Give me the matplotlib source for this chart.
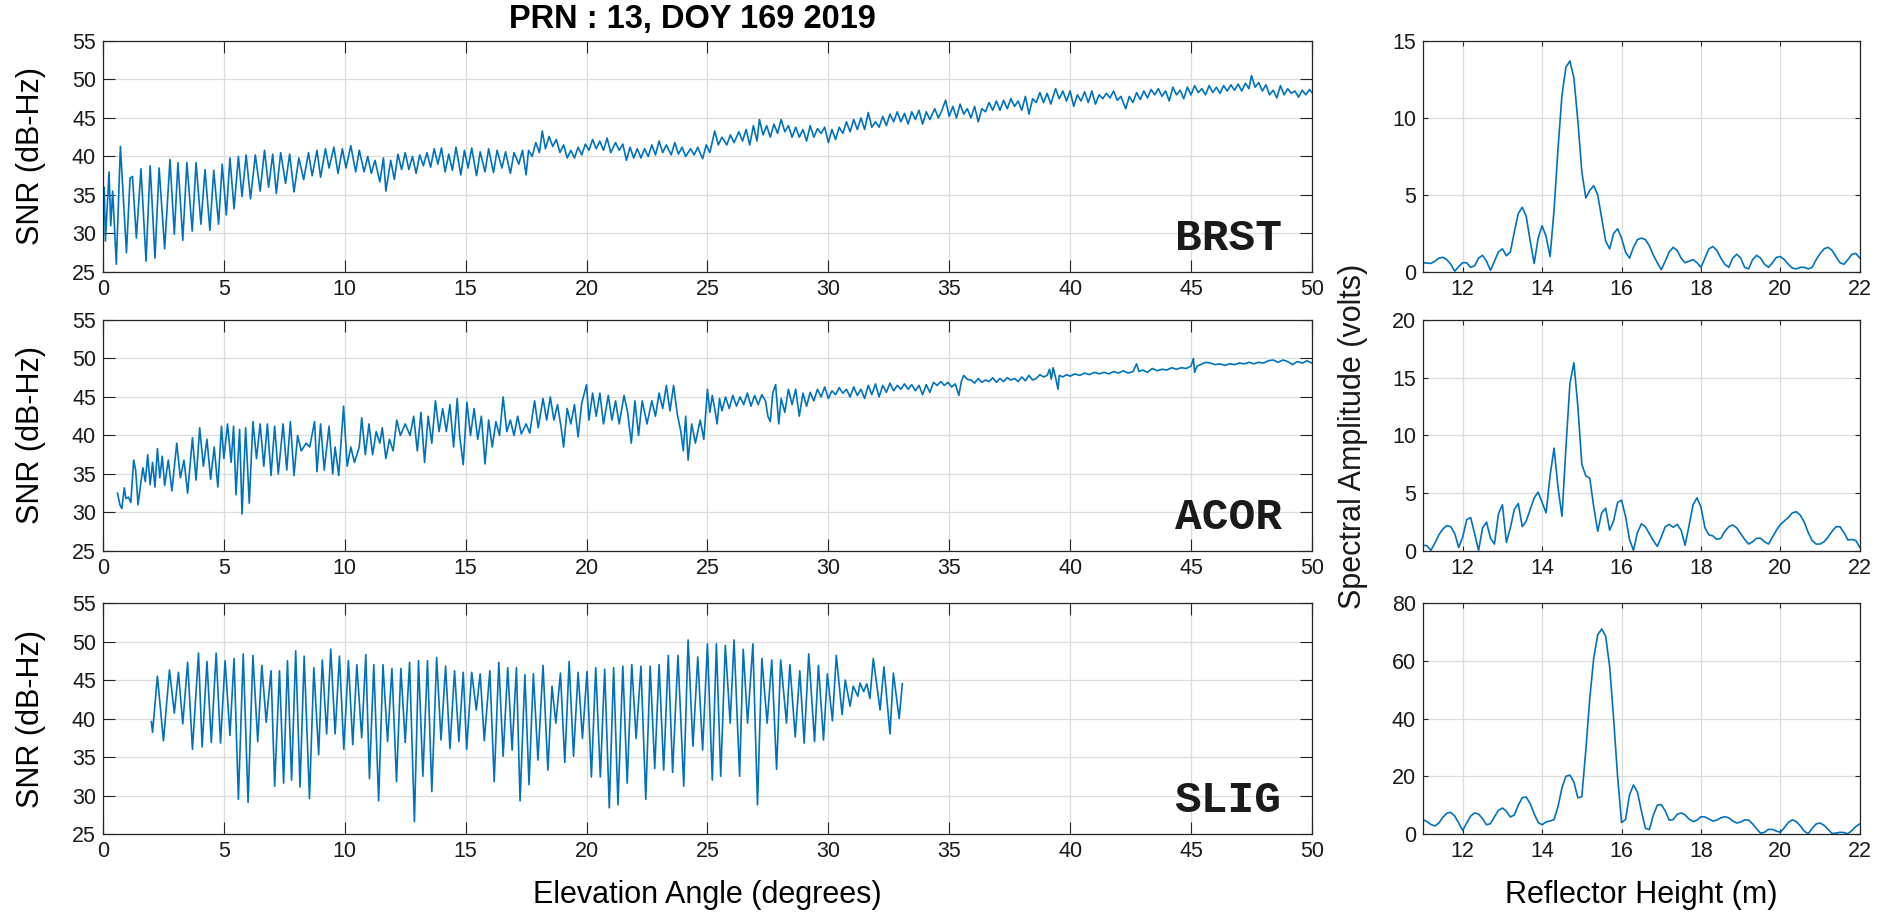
import numpy as np
import matplotlib.pyplot as plt

plt.rcParams['font.family'] = ['Liberation Sans', 'DejaVu Sans']

# SNR traces, PRN 13, DOY 169 2019 (vertices)
brst_elev = [
    0.0, 0.05, 0.1, 0.25, 0.32, 0.4, 0.55, 0.72, 0.97, 1.12,
    1.22, 1.38, 1.57, 1.78, 1.95, 2.15, 2.32, 2.55, 2.77, 2.95,
    3.1, 3.3, 3.47, 3.69, 3.85, 4.05, 4.22, 4.42, 4.58, 4.78,
    4.93, 5.1, 5.25, 5.42, 5.6, 5.75, 5.92, 6.1, 6.3, 6.5,
    6.68, 6.85, 7.02, 7.17, 7.35, 7.55, 7.72, 7.9, 8.1, 8.3,
    8.5, 8.65, 8.85, 9.0, 9.2, 9.35, 9.55, 9.72, 9.9, 10.05,
    10.25, 10.45, 10.6, 10.8, 10.95, 11.1, 11.25, 11.45, 11.6, 11.7,
    11.9, 12.05, 12.2, 12.35, 12.5, 12.65, 12.8, 12.95, 13.1, 13.25,
    13.4, 13.55, 13.7, 13.85, 14.0, 14.15, 14.3, 14.45, 14.6, 14.8,
    14.95, 15.1, 15.25, 15.45, 15.6, 15.8, 15.95, 16.15, 16.3, 16.5,
    16.65, 16.85, 17.0, 17.2, 17.35, 17.5, 17.6, 17.75, 17.9, 18.05,
    18.17, 18.3, 18.45, 18.6, 18.75, 18.9, 19.05, 19.2, 19.35, 19.5,
    19.65, 19.8, 19.95, 20.1, 20.25, 20.4, 20.55, 20.7, 20.85, 21.0,
    21.2, 21.35, 21.5, 21.65, 21.8, 21.95, 22.1, 22.25, 22.4, 22.55,
    22.7, 22.85, 23.0, 23.15, 23.3, 23.5, 23.65, 23.8, 23.95, 24.1,
    24.3, 24.45, 24.6, 24.8, 24.95, 25.1, 25.3, 25.45, 25.6, 25.8,
    25.95, 26.1, 26.3, 26.45, 26.6, 26.75, 26.9, 27.05, 27.15, 27.3,
    27.45, 27.6, 27.75, 27.9, 28.05, 28.2, 28.35, 28.5, 28.65, 28.8,
    28.95, 29.1, 29.25, 29.4, 29.55, 29.7, 29.85, 30.0, 30.15, 30.3,
    30.45, 30.6, 30.75, 30.9, 31.05, 31.2, 31.35, 31.5, 31.65, 31.8,
    31.95, 32.1, 32.25, 32.4, 32.55, 32.7, 32.85, 33.0, 33.15, 33.3,
    33.45, 33.6, 33.75, 33.9, 34.05, 34.2, 34.4, 34.55, 34.7, 34.85,
    35.0, 35.15, 35.3, 35.45, 35.6, 35.75, 35.9, 36.05, 36.2, 36.35,
    36.5, 36.65, 36.8, 36.95, 37.1, 37.25, 37.4, 37.55, 37.7, 37.85,
    38.0, 38.15, 38.3, 38.45, 38.6, 38.75, 38.9, 39.05, 39.2, 39.4,
    39.55, 39.7, 39.85, 40.0, 40.15, 40.3, 40.45, 40.6, 40.75, 40.9,
    41.05, 41.2, 41.35, 41.5, 41.65, 41.8, 41.95, 42.1, 42.3, 42.45,
    42.6, 42.75, 42.9, 43.05, 43.2, 43.35, 43.5, 43.65, 43.8, 43.95,
    44.1, 44.25, 44.4, 44.55, 44.7, 44.85, 45.0, 45.15, 45.3, 45.45,
    45.6, 45.75, 45.9, 46.05, 46.2, 46.35, 46.5, 46.65, 46.8, 46.95,
    47.1, 47.25, 47.4, 47.5, 47.65, 47.8, 47.95, 48.1, 48.25, 48.4,
    48.55, 48.7, 48.85, 49.0, 49.15, 49.3, 49.45, 49.6, 49.75, 49.9,
    50.0]
brst_snr = [
    31.5, 36.0, 29.0, 38.0, 31.0, 35.5, 26.0, 41.3, 27.5, 37.2,
    37.4, 29.4, 38.4, 26.4, 38.8, 26.8, 38.5, 28.0, 39.6, 29.9,
    39.2, 29.1, 39.2, 30.3, 39.2, 31.2, 38.3, 30.4, 38.2, 31.2,
    39.0, 32.4, 39.8, 33.2, 40.0, 34.8, 40.2, 34.5, 40.2, 35.5,
    40.8, 36.0, 40.3, 35.2, 40.5, 36.5, 40.3, 35.4, 39.8, 37.0,
    40.5, 37.5, 40.8, 37.3, 41.0, 38.5, 41.2, 37.8, 41.0, 38.5,
    41.4, 38.0, 40.8, 38.0, 40.0, 37.8, 39.5, 36.7, 39.8, 35.5,
    39.5, 37.0, 40.3, 38.3, 40.5, 38.3, 40.0, 37.8, 40.2, 38.8,
    40.5, 38.6, 41.0, 39.0, 41.1, 38.0, 40.3, 38.2, 41.2, 37.6,
    40.8, 38.5, 41.1, 37.5, 40.6, 38.0, 41.0, 37.9, 40.8, 38.5,
    40.6, 37.8, 40.5, 39.0, 40.8, 37.6, 40.8, 40.0, 41.8, 40.5,
    43.3, 41.0, 42.6, 41.3, 42.2, 40.5, 41.5, 39.8, 40.8, 39.8,
    41.2, 40.2, 41.6, 40.8, 42.2, 41.0, 42.0, 40.8, 42.4, 40.5,
    41.8, 40.8, 41.6, 39.5, 41.2, 39.8, 41.0, 39.8, 41.0, 40.0,
    41.5, 40.2, 42.0, 40.5, 41.5, 40.2, 41.8, 40.3, 41.2, 40.0,
    41.0, 40.2, 41.2, 39.7, 41.5, 40.5, 43.3, 41.5, 42.5, 41.5,
    42.8, 41.8, 43.2, 42.0, 43.5, 41.5, 44.0, 42.0, 44.8, 42.8,
    44.0, 42.5, 44.2, 43.0, 44.8, 43.2, 44.0, 42.5, 43.8, 42.5,
    43.5, 42.0, 44.0, 42.5, 43.6, 43.0, 43.8, 41.8, 43.5, 42.2,
    43.8, 43.0, 44.5, 43.2, 44.8, 43.5, 45.0, 43.5, 45.7, 43.8,
    44.5, 43.8, 45.2, 44.0, 45.5, 44.5, 45.8, 44.5, 45.6, 44.2,
    45.8, 44.8, 46.0, 44.2, 45.8, 44.8, 46.2, 45.0, 46.0, 47.3,
    45.2, 46.5, 45.0, 46.8, 45.5, 46.2, 45.0, 46.5, 44.5, 46.2,
    45.8, 47.0, 46.0, 47.2, 46.0, 47.3, 46.2, 47.5, 46.5, 47.2,
    46.0, 47.8, 45.5, 47.5, 47.0, 48.3, 47.0, 48.2, 46.8, 48.8,
    47.5, 48.5, 47.2, 48.5, 46.5, 48.0, 47.2, 48.4, 47.0, 48.5,
    46.8, 48.0, 47.5, 48.2, 47.6, 48.5, 47.3, 47.8, 46.2, 47.8,
    47.0, 48.3, 47.4, 48.5, 47.6, 48.7, 48.0, 48.8, 47.8, 48.5,
    47.2, 49.0, 48.0, 48.6, 47.5, 49.0, 48.0, 49.2, 48.3, 48.8,
    48.0, 49.2, 48.3, 49.0, 48.2, 49.2, 48.5, 49.3, 48.6, 49.4,
    48.5, 49.5, 48.8, 50.5, 49.0, 49.6, 48.5, 49.3, 48.0, 48.6,
    47.6, 49.2, 48.0, 48.8, 48.2, 48.5, 47.7, 48.6, 48.0, 48.7,
    48.3]

acor_elev = [
    0.6, 0.7, 0.78, 0.88, 0.95, 1.05, 1.15, 1.27, 1.35, 1.45,
    1.55, 1.65, 1.75, 1.85, 1.95, 2.05, 2.15, 2.25, 2.35, 2.45,
    2.55, 2.7, 2.85, 3.05, 3.2, 3.35, 3.5, 3.7, 3.85, 4.0,
    4.15, 4.3, 4.45, 4.6, 4.75, 4.9, 5.0, 5.15, 5.3, 5.4,
    5.5, 5.65, 5.75, 5.9, 6.05, 6.2, 6.35, 6.5, 6.65, 6.8,
    6.95, 7.1, 7.25, 7.45, 7.6, 7.75, 7.9, 8.05, 8.2, 8.4,
    8.55, 8.75, 8.85, 9.0, 9.15, 9.35, 9.5, 9.6, 9.75, 9.95,
    10.1, 10.25, 10.4, 10.6, 10.7, 10.85, 11.0, 11.15, 11.3, 11.45,
    11.55, 11.7, 11.85, 12.0, 12.15, 12.3, 12.5, 12.7, 12.85, 13.0,
    13.15, 13.3, 13.45, 13.6, 13.75, 13.9, 14.05, 14.2, 14.35, 14.5,
    14.65, 14.75, 14.9, 15.05, 15.2, 15.35, 15.5, 15.65, 15.8, 15.95,
    16.1, 16.25, 16.4, 16.55, 16.7, 16.85, 17.0, 17.15, 17.3, 17.5,
    17.65, 17.85, 18.0, 18.2, 18.35, 18.5, 18.65, 18.8, 18.95, 19.05,
    19.2, 19.35, 19.5, 19.65, 19.8, 20.0, 20.1, 20.25, 20.4, 20.55,
    20.7, 20.9, 21.05, 21.2, 21.35, 21.55, 21.7, 21.85, 22.0, 22.15,
    22.3, 22.5, 22.7, 22.85, 23.0, 23.15, 23.3, 23.45, 23.6, 23.75,
    23.9, 24.0, 24.1, 24.2, 24.35, 24.5, 24.7, 24.85, 25.0, 25.1,
    25.2, 25.3, 25.4, 25.5, 25.6, 25.75, 25.9, 26.05, 26.2, 26.35,
    26.5, 26.65, 26.8, 26.95, 27.1, 27.25, 27.4, 27.5, 27.6, 27.7,
    27.82, 27.95, 28.05, 28.2, 28.35, 28.5, 28.65, 28.8, 28.95, 29.1,
    29.25, 29.4, 29.55, 29.7, 29.85, 30.0, 30.15, 30.3, 30.45, 30.6,
    30.75, 30.9, 31.05, 31.2, 31.35, 31.5, 31.65, 31.8, 31.95, 32.1,
    32.25, 32.4, 32.55, 32.7, 32.85, 33.0, 33.15, 33.3, 33.45, 33.6,
    33.75, 33.9, 34.05, 34.2, 34.35, 34.5, 34.65, 34.8, 34.95, 35.1,
    35.25, 35.4, 35.5, 35.6, 35.75, 35.9, 36.05, 36.2, 36.35, 36.5,
    36.65, 36.8, 36.95, 37.1, 37.25, 37.4, 37.55, 37.7, 37.85, 38.0,
    38.15, 38.3, 38.45, 38.6, 38.75, 38.9, 39.05, 39.15, 39.22, 39.3,
    39.4, 39.5, 39.55, 39.7, 39.85, 40.0, 40.2, 40.4, 40.6, 40.8,
    41.0, 41.2, 41.4, 41.6, 41.8, 42.0, 42.2, 42.4, 42.6, 42.75,
    42.85, 43.0, 43.2, 43.4, 43.6, 43.8, 44.0, 44.2, 44.4, 44.6,
    44.8, 45.0, 45.1, 45.15, 45.25, 45.4, 45.6, 45.8, 46.0, 46.2,
    46.4, 46.6, 46.8, 47.0, 47.2, 47.4, 47.6, 47.8, 48.0, 48.2,
    48.4, 48.6, 48.8, 49.0, 49.2, 49.4, 49.6, 49.8, 50.0]
acor_snr = [
    32.5, 31.0, 30.5, 33.2, 31.8, 32.0, 31.3, 36.8, 35.5, 31.0,
    33.5, 35.8, 34.0, 37.5, 33.6, 36.5, 33.3, 38.3, 34.5, 37.3,
    33.5, 36.8, 32.8, 39.0, 34.5, 36.8, 32.5, 39.7, 34.2, 41.0,
    36.0, 39.5, 34.3, 38.5, 33.3, 41.2, 37.0, 41.5, 36.5, 41.2,
    32.3, 40.8, 29.8, 41.0, 31.2, 41.8, 37.0, 41.5, 36.0, 41.5,
    34.8, 41.2, 35.0, 41.5, 35.5, 41.8, 34.8, 40.0, 38.0, 39.0,
    38.5, 41.8, 35.3, 41.5, 35.5, 41.2, 35.0, 38.5, 34.8, 43.8,
    36.0, 38.5, 36.5, 38.5, 42.3, 37.5, 41.5, 37.5, 40.5, 39.0,
    41.0, 37.0, 39.5, 38.0, 42.0, 40.0, 41.5, 40.0, 42.5, 38.0,
    43.0, 36.5, 42.5, 39.0, 44.5, 40.5, 43.5, 40.5, 44.0, 38.5,
    44.8, 40.0, 36.2, 44.3, 40.0, 43.5, 39.5, 42.5, 36.3, 42.0,
    38.5, 41.8, 40.0, 45.0, 40.5, 42.0, 40.0, 42.5, 40.2, 41.5,
    40.3, 44.5, 41.0, 44.8, 42.0, 45.0, 42.0, 44.0, 41.0, 38.5,
    43.5, 41.5, 44.0, 39.8, 44.2, 46.6, 42.0, 45.5, 42.5, 45.5,
    41.5, 45.2, 42.0, 44.5, 41.5, 45.2, 43.0, 39.0, 44.5, 40.0,
    44.5, 41.5, 44.5, 42.5, 45.5, 43.5, 46.5, 43.2, 46.5, 42.8,
    40.5, 38.0, 42.5, 36.8, 41.5, 39.0, 42.0, 39.5, 46.0, 43.0,
    45.2, 43.5, 41.5, 44.8, 43.2, 45.0, 43.5, 45.2, 43.8, 45.0,
    44.0, 45.5, 43.8, 45.2, 44.0, 45.3, 44.5, 42.5, 41.8, 45.5,
    46.6, 41.5, 44.8, 43.0, 46.0, 44.0, 46.0, 42.5, 45.5, 43.8,
    45.6, 44.5, 46.0, 45.0, 46.3, 44.8, 45.8, 45.3, 46.2, 45.5,
    46.0, 45.0, 46.3, 45.2, 46.0, 44.8, 46.5, 45.3, 46.7, 45.0,
    46.5, 45.6, 46.8, 45.8, 46.5, 46.0, 46.7, 46.0, 46.6, 45.8,
    46.5, 45.3, 46.6, 45.6, 46.9, 46.5, 47.0, 46.5, 46.9, 46.3,
    46.7, 45.2, 47.0, 47.8, 47.3, 47.2, 46.8, 47.4, 46.9, 47.2,
    47.0, 47.5, 46.9, 47.4, 47.0, 47.5, 47.2, 47.4, 47.0, 47.6,
    47.1, 47.8, 47.2, 47.4, 47.9, 47.6, 47.8, 48.6, 47.3, 48.8,
    47.5, 46.0, 47.8, 47.6, 47.9, 47.7, 48.0, 47.8, 48.1, 47.9,
    48.2, 48.0, 48.2, 48.0, 48.3, 48.1, 48.4, 48.1, 48.3, 49.3,
    48.3, 48.5, 48.2, 48.7, 48.4, 48.6, 48.5, 48.8, 48.6, 48.8,
    48.7, 49.0, 50.0, 48.2, 49.0, 49.2, 49.5, 49.4, 49.2, 49.3,
    49.1, 49.3, 49.2, 49.4, 49.3, 49.5, 49.3, 49.5, 49.4, 49.7,
    49.8, 49.5, 49.8, 49.6, 49.2, 49.6, 49.4, 49.7, 49.4]

slig_elev = [
    2.0, 2.05, 2.25, 2.5, 2.75, 2.95, 3.12, 3.3, 3.5, 3.7,
    3.95, 4.1, 4.3, 4.48, 4.68, 4.86, 5.05, 5.25, 5.42, 5.6,
    5.8, 6.0, 6.2, 6.4, 6.57, 6.75, 6.95, 7.1, 7.3, 7.47,
    7.63, 7.8, 7.97, 8.15, 8.32, 8.54, 8.72, 8.92, 9.07, 9.25,
    9.42, 9.6, 9.78, 9.96, 10.15, 10.33, 10.5, 10.7, 10.87, 11.02,
    11.2, 11.4, 11.58, 11.77, 11.95, 12.14, 12.32, 12.5, 12.68, 12.88,
    13.05, 13.23, 13.42, 13.6, 13.8, 13.98, 14.17, 14.35, 14.54, 14.72,
    14.9, 15.04, 15.25, 15.44, 15.6, 15.77, 16.0, 16.18, 16.37, 16.55,
    16.74, 16.92, 17.1, 17.25, 17.45, 17.62, 17.8, 17.99, 18.2, 18.4,
    18.57, 18.73, 18.92, 19.1, 19.28, 19.46, 19.65, 19.83, 20.02, 20.2,
    20.38, 20.57, 20.75, 20.94, 21.12, 21.3, 21.5, 21.68, 21.87, 22.05,
    22.25, 22.45, 22.63, 22.82, 23.0, 23.19, 23.38, 23.56, 23.78, 24.02,
    24.2, 24.4, 24.6, 24.8, 25.0, 25.2, 25.37, 25.55, 25.74, 25.94,
    26.1, 26.33, 26.48, 26.66, 26.88, 27.07, 27.25, 27.47, 27.66, 27.86,
    28.03, 28.27, 28.41, 28.63, 28.82, 29.0, 29.19, 29.43, 29.59, 29.8,
    29.96, 30.17, 30.33, 30.57, 30.7, 30.9, 31.03, 31.22, 31.31, 31.46,
    31.59, 31.72, 31.86, 32.14, 32.3, 32.55, 32.69, 32.93, 33.06]
slig_snr = [
    39.6, 38.2, 45.5, 37.1, 46.3, 40.7, 46.0, 39.3, 47.3, 36.0,
    48.5, 36.3, 47.4, 36.9, 48.5, 36.8, 47.5, 37.8, 47.8, 29.5,
    48.4, 29.1, 48.2, 37.0, 46.9, 39.5, 46.2, 31.2, 46.2, 31.6,
    47.5, 32.0, 48.8, 31.1, 48.1, 29.6, 46.6, 35.3, 47.6, 38.0,
    49.0, 38.0, 48.1, 36.0, 47.5, 36.6, 47.0, 37.5, 48.3, 32.2,
    47.0, 29.3, 47.0, 37.0, 46.5, 31.8, 46.5, 36.9, 47.3, 26.6,
    47.5, 32.5, 47.5, 30.5, 47.9, 37.2, 46.8, 36.1, 46.2, 37.0,
    46.0, 36.0, 46.0, 41.1, 45.8, 37.1, 46.2, 31.8, 47.3, 35.1,
    46.6, 35.9, 46.6, 29.3, 45.7, 31.4, 45.8, 34.6, 46.9, 33.3,
    44.2, 39.4, 45.9, 34.3, 47.4, 35.1, 46.0, 37.4, 46.1, 32.4,
    46.6, 32.4, 46.4, 28.4, 46.6, 28.8, 46.8, 31.6, 47.0, 37.4,
    46.8, 29.5, 46.8, 33.5, 47.0, 33.3, 48.2, 33.0, 48.2, 31.2,
    50.2, 36.4, 48.0, 35.9, 49.7, 32.0, 49.7, 32.5, 49.5, 39.4,
    50.2, 32.5, 49.0, 39.4, 49.7, 28.8, 47.8, 39.4, 47.6, 33.4,
    47.6, 39.4, 47.0, 37.6, 46.2, 36.8, 48.4, 37.0, 46.9, 37.2,
    45.8, 39.7, 48.2, 40.5, 45.0, 41.6, 44.2, 42.9, 44.6, 43.5,
    44.5, 42.6, 47.8, 41.1, 46.7, 38.0, 45.9, 40.0, 44.5]

# spectral amplitude, sampled every 0.1 m from 11 m to 22 m
heights = np.linspace(11.0, 22.0, 111)
brst_amp = [
    0.60, 0.58, 0.55, 0.70, 0.90, 0.95, 0.80, 0.50, 0.05, 0.35,
    0.60, 0.60, 0.30, 0.40, 0.90, 1.08, 0.70, 0.10, 0.70, 1.30,
    1.50, 1.05, 1.30, 2.60, 3.80, 4.20, 3.60, 2.00, 0.55, 2.20,
    3.00, 2.30, 1.00, 4.00, 8.00, 11.5, 13.3, 13.7, 12.6, 9.8,
    6.5, 4.8, 5.3, 5.6, 5.0, 3.5, 2.0, 1.5, 2.5, 2.8,
    2.2, 1.3, 0.9, 1.6, 2.1, 2.2, 2.1, 1.7, 1.1, 0.6,
    0.15, 0.7, 1.3, 1.6, 1.4, 0.9, 0.6, 0.7, 0.8, 0.6,
    0.3, 0.9, 1.5, 1.65, 1.4, 0.9, 0.5, 0.3, 0.9, 1.15,
    0.9, 0.3, 0.2, 0.8, 1.08, 0.9, 0.5, 0.3, 0.6, 0.95,
    1.0, 0.8, 0.5, 0.25, 0.2, 0.3, 0.3, 0.2, 0.3, 0.8,
    1.2, 1.5, 1.6, 1.4, 1.0, 0.6, 0.5, 0.8, 1.15, 1.2,
    0.9]
acor_amp = [
    0.5, 0.45, 0.05, 0.7, 1.4, 1.9, 2.2, 2.1, 1.5, 0.3,
    1.2, 2.7, 2.9, 1.5, 0.05, 2.0, 2.5, 1.1, 0.6, 3.2,
    4.0, 0.75, 2.0, 3.6, 4.1, 2.1, 2.6, 3.6, 4.6, 5.1,
    4.2, 3.3, 6.5, 8.9, 5.5, 3.0, 9.0, 14.5, 16.3, 12.5,
    7.5, 6.5, 6.3, 3.8, 1.7, 3.3, 3.7, 1.8, 2.6, 4.2,
    4.4, 3.0, 1.0, 0.05, 1.6, 2.35, 2.1, 1.5, 0.9, 0.4,
    1.2, 2.1, 2.3, 2.05, 2.3, 1.8, 0.5, 2.2, 4.0, 4.6,
    3.8, 2.0, 1.4, 1.3, 1.0, 1.1, 1.7, 2.1, 2.25, 2.0,
    1.5, 1.0, 0.6, 0.8, 1.1, 1.1, 0.8, 0.6, 1.2, 1.8,
    2.3, 2.6, 2.9, 3.3, 3.4, 3.1, 2.5, 1.6, 0.9, 0.6,
    0.6, 0.8, 1.2, 1.7, 2.1, 2.1, 1.6, 0.95, 1.0, 0.9,
    0.3]
slig_amp = [
    5.0, 4.3, 3.3, 2.8, 3.8, 5.8, 7.2, 7.5, 6.2, 3.8,
    1.2, 3.8, 6.2, 7.3, 6.9, 5.3, 3.2, 3.6, 6.0, 8.2,
    9.0, 7.9, 5.9, 6.6, 10.0, 12.6, 12.8, 10.5, 7.0, 4.0,
    3.2, 4.2, 4.5, 5.0, 9.5, 16.0, 20.0, 20.4, 18.0, 12.5,
    13.0, 29.0, 47.0, 61.0, 69.0, 71.0, 68.5, 58.0, 40.0, 20.0,
    4.0, 5.0, 13.5, 17.0, 14.5, 8.0, 2.0, 1.5, 6.5, 10.0,
    10.2, 8.0, 4.8, 5.0, 6.8, 7.3, 6.6, 5.2, 4.3, 4.8,
    6.0, 5.9, 5.2, 4.5, 4.8, 5.6, 6.0, 5.6, 4.5, 3.8,
    4.2, 4.9, 4.8, 3.5, 1.8, 0.3, 0.6, 1.6, 1.6, 1.0,
    0.6, 2.2, 4.0, 4.9, 4.3, 2.8, 1.0, 0.1, 2.0, 3.5,
    3.8, 3.0, 1.6, 0.2, 0.3, 0.6, 0.5, 0.1, 1.2, 2.6,
    3.5]

stations = ['BRST', 'ACOR', 'SLIG']
snr_elev = [brst_elev, acor_elev, slig_elev]
snr_vals = [brst_snr, acor_snr, slig_snr]
spec_vals = [brst_amp, acor_amp, slig_amp]
spec_ylim = [15, 20, 80]
spec_yticks = [[0, 5, 10, 15], [0, 5, 10, 15, 20], [0, 20, 40, 60, 80]]

blue = '#0072BD'
dark = '#262626'

fig = plt.figure(figsize=(18.83, 9.16), dpi=100)
bottoms = [0.7031, 0.3985, 0.0895]
h = 0.2522


def style(ax, ticklen):
    ax.grid(True, color='#dcdcdc', linewidth=0.9)
    ax.set_axisbelow(True)
    for s in ax.spines.values():
        s.set_color(dark)
        s.set_linewidth(0.9)
    ax.tick_params(direction='in', top=True, right=True, length=ticklen,
                   width=0.8, colors=dark, labelcolor='#1a1a1a',
                   labelsize=15.5, pad=5)


for i in range(3):
    ax = fig.add_axes([0.0547, bottoms[i], 0.642, h])
    ax.plot(snr_elev[i], snr_vals[i], color=blue, linewidth=1.2,
            solid_joinstyle='round')
    ax.set_xlim(0, 50)
    ax.set_ylim(25, 55)
    ax.set_xticks(range(0, 51, 5))
    ax.set_yticks(range(25, 56, 5))
    style(ax, 8.6)
    ax.set_ylabel('SNR (dB-Hz)', fontsize=22, va='center')
    ax.yaxis.set_label_coords(-0.0596, 0.5)
    ax.text(48.75, 27.9, stations[i], ha='right', va='baseline',
            fontfamily='Liberation Mono', fontweight='bold', fontsize=32,
            color='#1a1a1a')
    if i == 2:
        ax.set_xlabel('Elevation Angle (degrees)', fontsize=22, va='center')
        ax.xaxis.set_label_coords(0.5, -0.264)

    ax2 = fig.add_axes([0.7557, bottoms[i], 0.232, h])
    ax2.plot(heights, spec_vals[i], color=blue, linewidth=1.2)
    ax2.set_xlim(11, 22)
    ax2.set_ylim(0, spec_ylim[i])
    ax2.set_xticks(range(12, 23, 2))
    ax2.set_yticks(spec_yticks[i])
    style(ax2, 3.6)
    if i == 2:
        ax2.set_xlabel('Reflector Height (m)', fontsize=22, va='center')
        ax2.xaxis.set_label_coords(0.5, -0.264)

fig.text(0.7185, 0.524, 'Spectral Amplitude (volts)', rotation=90,
         ha='center', va='center', fontsize=22, color='#1a1a1a')
fig.text(0.3675, 0.979, 'PRN : 13, DOY 169 2019', ha='center', va='center',
         fontsize=23.5, fontweight='bold')

fig.savefig('out.png', dpi=100)
